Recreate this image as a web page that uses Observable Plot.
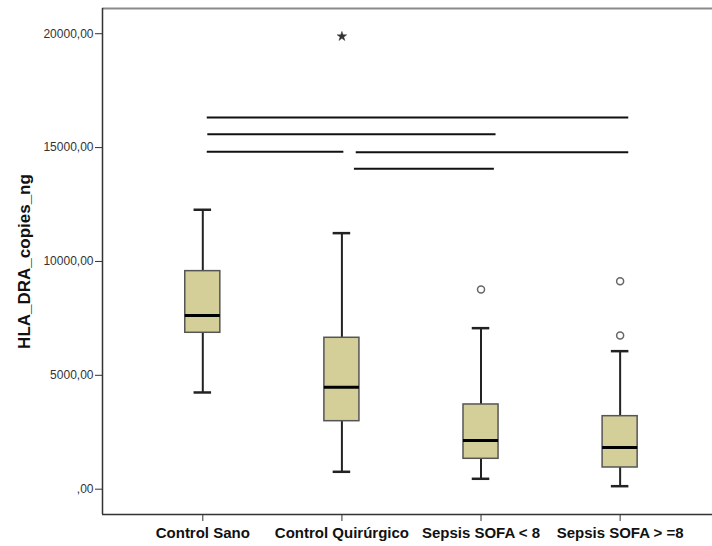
<!DOCTYPE html>
<html>
<head>
<meta charset="utf-8">
<script src="https://cdn.jsdelivr.net/npm/d3@7"></script>
<script src="https://cdn.jsdelivr.net/npm/@observablehq/plot@0.6"></script>
<style>
  body { margin: 0; background: #fff; }
  #chart svg { font-family: "Liberation Sans", Arial, sans-serif; }
  #chart g[aria-label="y-axis tick label"] text { font-size: 12px; fill: #333; }
  #chart g[aria-label="y-axis label"] text { font-size: 17px; font-weight: bold; fill: #111; }
  #chart g[aria-label="x-axis tick label"] text { font-size: 15px; font-weight: bold; fill: #111; }
</style>
</head>
<body>
<div id="chart"></div>
<script>
const groups = ["Control Sano", "Control Quirúrgico", "Sepsis SOFA < 8", "Sepsis SOFA > =8"];
const whiskerLow = [4247, 764, 457, 132];
const q1 = [6868, 2986, 1335, 953];
const median = [7628, 4480, 2139, 1831];
const q3 = [9575, 6649, 3720, 3206];
const whiskerHigh = [12270, 11243, 7071, 6061];
// outliers (circle) and extremes (star): group index (1-based) and value
const outlierGroup = [3, 4, 4];
const outlierValue = [8770, 9135, 6750];
const extremeGroup = [2];
const extremeValue = [19881];
// significance bars: start/end position (in group index units) and level
const barFrom = [1.032, 1.036, 1.032, 2.103, 2.09];
const barTo = [4.062, 3.108, 2.014, 4.062, 3.096];
const barLevel = [16324, 15590, 14817, 14790, 14071];
const yTicks = [0, 5000, 10000, 15000, 20000];

const xDomain = [0.279, 4.664];
const yDomain = [-1111, 21107];
const half = 0.126, capHalf = 0.063;

const boxes = groups.map((g, i) => ({
  i: i + 1, lo: whiskerLow[i], q1: q1[i], med: median[i], q3: q3[i], hi: whiskerHigh[i]
}));
const outliers = outlierGroup.map((g, k) => ({i: g, v: outlierValue[k]}));
const extremes = extremeGroup.map((g, k) => ({i: g, v: extremeValue[k]}));
const bars = barFrom.map((f, k) => ({x1: f, x2: barTo[k], y: barLevel[k]}));

const fmt = d => d === 0 ? ",00" : d.toFixed(2).replace(".", ",");

const chart = Plot.plot({
  width: 712,
  height: 546,
  marginLeft: 102,
  marginRight: 0,
  marginTop: 8,
  marginBottom: 32,
  x: {domain: xDomain},
  y: {domain: yDomain},
  marks: [
    Plot.ruleY([yDomain[1]], {stroke: "#8a8a8a", strokeWidth: 2}),
    // whiskers
    Plot.ruleX(boxes, {x: "i", y1: "lo", y2: "q1", stroke: "#222", strokeWidth: 2}),
    Plot.ruleX(boxes, {x: "i", y1: "q3", y2: "hi", stroke: "#222", strokeWidth: 2}),
    Plot.ruleY(boxes, {y: "lo", x1: d => d.i - capHalf, x2: d => d.i + capHalf, stroke: "#222", strokeWidth: 2.5}),
    Plot.ruleY(boxes, {y: "hi", x1: d => d.i - capHalf, x2: d => d.i + capHalf, stroke: "#222", strokeWidth: 2.5}),
    // boxes
    Plot.rect(boxes, {x1: d => d.i - half, x2: d => d.i + half, y1: "q1", y2: "q3", fill: "#d4cf99", stroke: "#555", strokeWidth: 1.5}),
    Plot.ruleY(boxes, {y: "med", x1: d => d.i - half, x2: d => d.i + half, stroke: "#000", strokeWidth: 3}),
    // outliers
    Plot.dot(outliers, {x: "i", y: "v", r: 3.5, stroke: "#666", strokeWidth: 1.5, fill: "#fff"}),
    Plot.dot(extremes, {x: "i", y: "v", r: 3, symbol: "star", fill: "#333", stroke: "#333", strokeWidth: 0.5}),
    // significance bars
    Plot.ruleY(bars, {y: "y", x1: "x1", x2: "x2", stroke: "#111", strokeWidth: 2}),
    // axes
    Plot.axisY({ticks: yTicks, tickFormat: fmt, tickSize: 7, tickPadding: 2, stroke: "#333",
      label: "HLA_DRA_copies_ng", labelAnchor: "center", labelArrow: "none", labelOffset: 85}),
    Plot.axisX({ticks: [1, 2, 3, 4], tickFormat: i => groups[i - 1], tickSize: 7, tickPadding: 6, stroke: "#333",
      label: null}),
    Plot.ruleX([xDomain[0]], {stroke: "#333", strokeWidth: 1.5}),
    Plot.ruleY([yDomain[0]], {stroke: "#333", strokeWidth: 1.5})
  ]
});
document.getElementById("chart").appendChild(chart);
</script>
</body>
</html>
